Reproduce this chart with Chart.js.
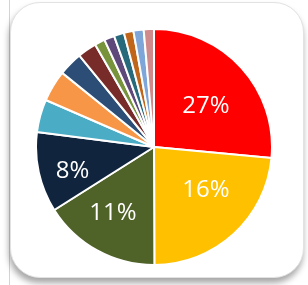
<!DOCTYPE html>
<html>
<head>
<meta charset="utf-8">
<script src="https://cdn.jsdelivr.net/npm/chart.js@4/dist/chart.umd.min.js"></script>
<style>
  html, body { margin: 0; padding: 0; background: #fff; }
  body { width: 308px; height: 285px; position: relative; overflow: hidden; }
  #rule { position: absolute; left: 9px; top: 0; width: 1px; height: 285px; background: #d4d4d4; }
  #card {
    position: absolute; left: 10px; top: 2px; width: 292px; height: 274px;
    background: #fff; border: 1px solid #e2e2e2; border-radius: 30px;
    box-shadow: -1px 5px 6px rgba(0, 0, 0, 0.35);
  }
  #wrap { position: absolute; left: 35px; top: 28px; width: 238px; height: 238px; }
</style>
</head>
<body>
<div id="rule"></div>
<div id="card"></div>
<div id="wrap"><canvas id="pieChart"></canvas></div>
<script>
const categories = ['A', 'B', 'C', 'D', 'E', 'F', 'G', 'H', 'I', 'J', 'K', 'L', 'M', 'N'];
const values = [26.5, 23.5, 16.1, 11.0, 4.5, 4.3, 3.3, 2.6, 1.4, 1.4, 1.4, 1.3, 1.4, 1.4];
const shownLabels = ['27%', '16%', '11%', '8%', '', '', '', '', '', '', '', '', '', ''];
const colors = ['#ff0000', '#ffc000', '#4f6228', '#10243e', '#4bacc6', '#f79646', '#2c4d75',
                '#772c2a', '#77933c', '#5f497a', '#276a7c', '#c0661a', '#7fa6d8', '#d08a8c'];

// label placement: fraction of radius, and a small turn (degrees) off the slice middle
const labelRadius = [0.56, 0.57, 0.66, 0.72];
const labelTurn = [4, -8, 3, -4];

const sliceLabels = {
    id: 'sliceLabels',
    afterDatasetsDraw(chart) {
        const ctx = chart.ctx;
        const meta = chart.getDatasetMeta(0);
        ctx.save();
        ctx.fillStyle = '#ffffff';
        ctx.font = '24px "Open Sans"';
        ctx.textAlign = 'center';
        ctx.textBaseline = 'middle';
        meta.data.forEach(function (arc, i) {
            if (!shownLabels[i]) return;
            const p = arc.getProps(['x', 'y', 'startAngle', 'endAngle', 'outerRadius']);
            const mid = (p.startAngle + p.endAngle) / 2 + (labelTurn[i] || 0) * Math.PI / 180;
            const r = p.outerRadius * (labelRadius[i] || 0.6);
            ctx.fillText(shownLabels[i], p.x + Math.cos(mid) * r, p.y + Math.sin(mid) * r);
        });
        ctx.restore();
    }
};

new Chart(document.getElementById('pieChart').getContext('2d'), {
    type: 'pie',
    data: {
        labels: categories,
        datasets: [{
            data: values,
            backgroundColor: colors,
            borderColor: '#ffffff',
            borderWidth: 2
        }]
    },
    options: {
        responsive: true,
        maintainAspectRatio: false,
        animation: false,
        layout: { padding: 0 },
        plugins: {
            legend: { display: false },
            tooltip: { enabled: false }
        }
    },
    plugins: [sliceLabels]
});
</script>
</body>
</html>
